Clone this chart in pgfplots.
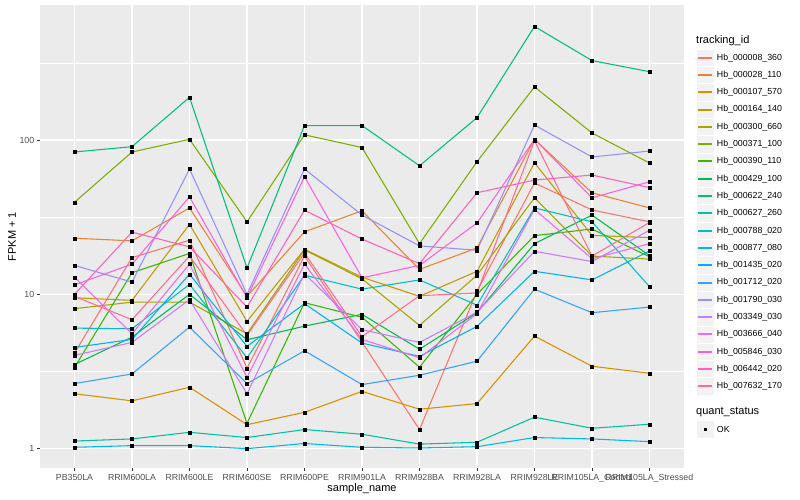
\documentclass[border=0pt]{standalone}
\usepackage{fontspec}
\setmainfont{Liberation Sans}
\usepackage{pgfplots}
\pgfplotsset{compat=1.18}
\usepackage{pgfplotstable}

\definecolor{c1}{HTML}{F8766D}
\definecolor{c2}{HTML}{EA8331}
\definecolor{c3}{HTML}{D89000}
\definecolor{c4}{HTML}{C09B00}
\definecolor{c5}{HTML}{A3A500}
\definecolor{c6}{HTML}{7CAE00}
\definecolor{c7}{HTML}{39B600}
\definecolor{c8}{HTML}{00BB4E}
\definecolor{c9}{HTML}{00BF7D}
\definecolor{c10}{HTML}{00C1A3}
\definecolor{c11}{HTML}{00BFC4}
\definecolor{c12}{HTML}{00BAE0}
\definecolor{c13}{HTML}{00B0F6}
\definecolor{c14}{HTML}{35A2FF}
\definecolor{c15}{HTML}{9590FF}
\definecolor{c16}{HTML}{C77CFF}
\definecolor{c17}{HTML}{E76BF3}
\definecolor{c18}{HTML}{FA62DB}
\definecolor{c19}{HTML}{FF62BC}
\definecolor{c20}{HTML}{FF6C91}
\definecolor{panelbg}{HTML}{EBEBEB}
\definecolor{grey95}{HTML}{F2F2F2}
\definecolor{grey30}{HTML}{4D4D4D}
\definecolor{grey20}{HTML}{333333}

\newcommand\ggsmall{\fontsize{8.8bp}{10.5bp}\selectfont}
\newcommand\ggbig{\fontsize{11bp}{13bp}\selectfont}

\pgfplotstableread{
x s1 s2 s3 s4 s5 s6 s7 s8 s9 s10 s11 s12 s13 s14 s15 s16 s17 s18 s19 s20
0 4.16 23.1 2.27 9.5 8.07 39.5 3.36 3.51 83.6 1.12 6.04 1.02 4.53 2.64 15.4 4.02 12.9 11.5 10.0 9.7
1 17.3 22.2 2.04 9.14 8.9 83.6 13.8 5.28 90.5 1.156 5.98 1.046 5.1 3.05 12.0 4.88 5.55 15.7 25.3 6.85
2 22.4 36.3 2.5 28.4 8.9 101 18.4 10.0 189 1.276 11.6 1.046 13.5 6.13 64.8 9.24 15.7 42.8 20.3 17.7
3 3.32 9.7 1.43 6.68 5.55 29.5 1.46 5.08 14.8 1.18 3.88 1.0 4.6 2.64 10.0 2.27 2.9 9.5 8.27 5.42
4 17.7 25.4 1.72 19.6 19.4 108 8.83 6.22 124 1.33 13.3 1.08 8.7 4.31 65 13.6 15.7 57.8 35.1 18.5
5 4.9 34.8 2.35 12.9 12.6 89.4 7.1 7.42 124 1.24 10.8 1.02 4.83 2.6 32.6 5.9 5.1 12.8 22.8 5.32
6 1.33 14.5 1.8 9.7 6.29 21.3 3.37 4.41 68.1 1.07 12.4 1.01 3.96 2.99 20.6 4.88 3.88 15.4 15.8 9.8
7 10.5 20.0 1.96 14.1 13.3 72.3 10.0 7.6 139.6 1.1 8.5 1.03 6.2 3.69 19.3 7.67 7.5 29.0 45.5 10.2
8 52.7 101 5.36 71.2 42.2 221 24.0 21.3 544 1.6 36.3 1.18 14.1 10.8 125 19.0 35.5 101 55 99
9 35.2 45.5 3.42 24.1 17.7 111 26.5 32.6 327 1.355 29.5 1.156 12.4 7.6 77.6 16.3 17.0 42.2 59.3 17.7
10 29.5 36.3 3.08 23.3 16.9 70.9 17.5 17.8 277 1.44 11.2 1.11 19.1 8.27 84.8 26.0 21.3 53.6 49.1 29.2
}\data

\begin{document}
\begin{tikzpicture}[x=1bp,y=1bp]
\path[use as bounding box] (0,0) rectangle (800,500);
\begin{axis}[
  at={(40bp,31.7bp)}, anchor=south west,
  width=644bp, height=463.3bp, scale only axis,
  xmin=-0.6, xmax=10.6,
  ymode=log, ymin=0.746, ymax=749.6,
  axis background/.style={fill=panelbg},
  axis line style={draw=none},
  xtick={0,...,10},
  xticklabels={PB350LA,RRIM600LA,RRIM600LE,RRIM600SE,RRIM600PE,RRIM901LA,RRIM928BA,RRIM928LA,RRIM928LE,RRIM105LA\_Control,RRIM105LA\_Stressed},
  ytick={1,10,100}, yticklabels={1,10,100},
  minor ytick={3.1623,31.623,316.23},
  xmajorgrids, ymajorgrids, yminorgrids,
  major grid style={white, line width=1.07bp},
  minor grid style={white, line width=0.53bp},
  tick align=outside, major tick length=2.75bp, minor tick length=0pt,
  xtick pos=bottom, ytick pos=left,
  tick style={color=grey20, line width=0.53bp},
  ticklabel style={font=\ggsmall, text=grey30},
  xticklabel style={anchor=north, inner sep=0pt, yshift=-3.2bp},
  yticklabel style={anchor=east, inner sep=0pt, xshift=-2.8bp},
]
\pgfplotsinvokeforeach{1,...,20}{
  \addplot[color=c#1, line width=1.07bp, mark=none] table[x=x, y=s#1]{\data};
}
\pgfplotsinvokeforeach{1,...,20}{
  \addplot[only marks, mark=square*, mark size=1.5bp, black] table[x=x, y=s#1]{\data};
}
\end{axis}
% axis titles
\node[font=\ggbig, inner sep=0pt] at (362,11) {sample\_name};
\node[font=\ggbig, inner sep=0pt, rotate=90] at (12,263.3) {FPKM + 1};
% legend: tracking_id
\node[font=\ggbig, inner sep=0pt, anchor=west] at (696,459.3) {tracking\_id};
\foreach \n [count=\k from 1] in {000008\_360,000028\_110,000107\_570,000164\_140,000300\_660,000371\_100,000390\_110,000429\_100,000622\_240,000627\_260,000788\_020,000877\_080,001435\_020,001712\_020,001790\_030,003349\_030,003666\_040,005846\_030,006442\_020,007632\_170}{
  \pgfmathsetmacro\yy{442.3-17.3*(\k-1)}
  \pgfmathtruncatemacro\kk{\k}
  \filldraw[fill=grey95, draw=white, line width=0.5bp] (696.7,\yy-8.65) rectangle (714,\yy+8.65);
  \draw[color=c\kk, line width=2bp] (698.4,\yy) -- (712.3,\yy);
  \node[font=\ggsmall, inner sep=0pt, anchor=west] at (716.7,\yy) {Hb\_\n};
}
% legend: quant_status
\node[font=\ggbig, inner sep=0pt, anchor=west] at (696,87.7) {quant\_status};
\filldraw[fill=grey95, draw=white, line width=0.5bp] (696.7,70.7-8.65) rectangle (714,70.7+8.65);
\fill[black] (703.6,69) rectangle (707.0,72.4);
\node[font=\ggsmall, inner sep=0pt, anchor=west] at (716.7,70.7) {OK};
\end{tikzpicture}
\end{document}
